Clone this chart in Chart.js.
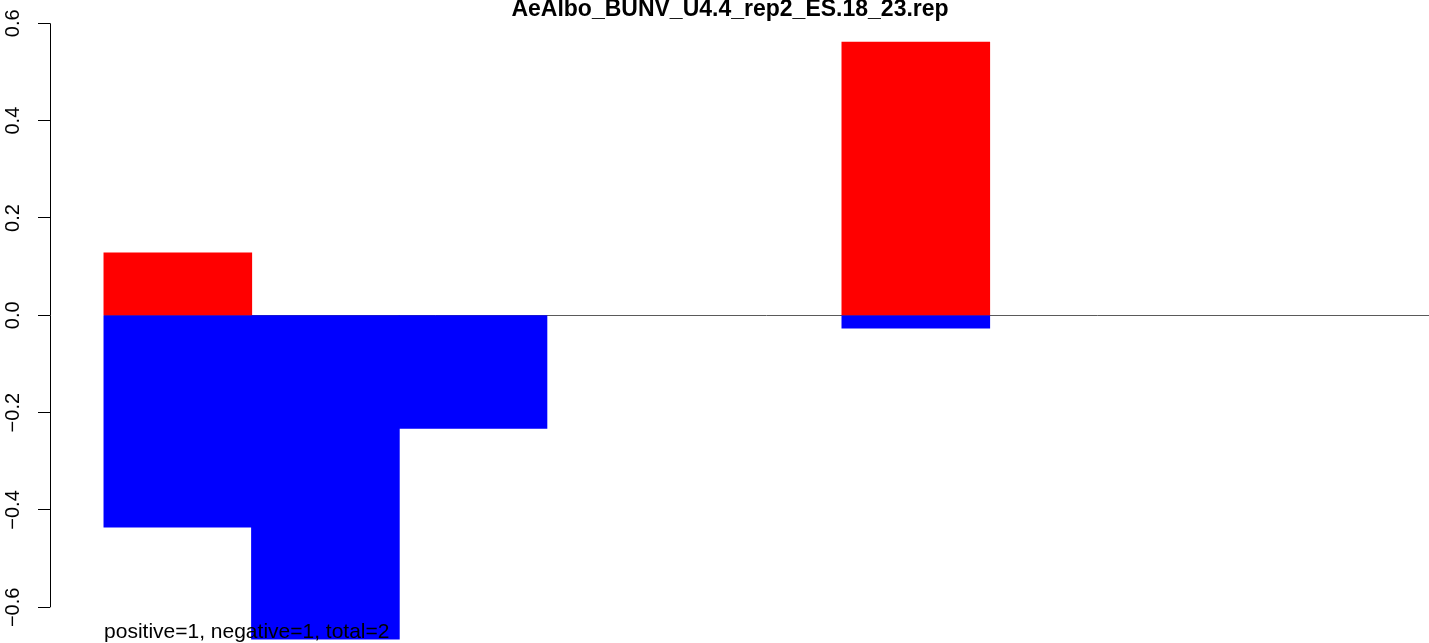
<!DOCTYPE html>
<html><head><meta charset="utf-8">
<script src="https://cdn.jsdelivr.net/npm/chart.js@4/dist/chart.umd.min.js"></script>
<style>html,body{margin:0;padding:0;background:#fff;overflow:hidden}canvas{display:block}</style>
</head><body>
<canvas id="c" width="1429" height="643"></canvas>
<script>
const chartTitle = 'AeAlbo_BUNV_U4.4_rep2_ES.18_23.rep';
const footnote = 'positive=1, negative=1, total=2';
const categories = ['1','2','3','4','5','6','7','8','9'];
const positiveValues = [0.128, 0, 0, 0, 0, 0.561, 0, 0, 0];
const negativeValues = [-0.435, -0.665, -0.232, 0, 0, -0.026, 0, 0, 0];
const tickValues = [-0.6, -0.4, -0.2, 0, 0.2, 0.4, 0.6];
const tickLabels = ['\u22120.6', '\u22120.4', '\u22120.2', '0.0', '0.2', '0.4', '0.6'];

const FONT = '"Liberation Sans", Arial, Helvetica, sans-serif';
const toPoints = vals => vals.map((v, i) => ({x: i + 0.5, y: v}));
const inflate = c => (c.raw && c.raw.y !== 0) ? 0.5 : 0;

const decor = {
  id: 'decor',
  beforeDatasetsDraw(chart) {
    const {ctx, chartArea, scales: {x, y}} = chart;
    const y0 = Math.round(y.getPixelForValue(0)) + 0.5;
    ctx.save();
    ctx.strokeStyle = '#5a5a5a';
    ctx.lineWidth = 1;
    ctx.beginPath();
    ctx.moveTo(x.getPixelForValue(0), y0);
    ctx.lineTo(chartArea.right, y0);
    ctx.stroke();
    ctx.restore();
  },
  afterDatasetsDraw(chart) {
    const {ctx, chartArea, scales: {x, y}} = chart;
    ctx.save();
    const sx = chartArea.left + 0.5;
    ctx.strokeStyle = '#000';
    ctx.lineWidth = 1;
    ctx.beginPath();
    ctx.moveTo(sx, y.getPixelForValue(tickValues[tickValues.length - 1]));
    ctx.lineTo(sx, y.getPixelForValue(tickValues[0]));
    ctx.stroke();
    ctx.fillStyle = '#000';
    ctx.font = 'bold 23px ' + FONT;
    ctx.textAlign = 'center';
    ctx.textBaseline = 'alphabetic';
    ctx.fillText(chartTitle, 730, 16);
    ctx.font = '21px ' + FONT;
    ctx.textAlign = 'left';
    ctx.fillText(footnote, x.getPixelForValue(0), 638);
    ctx.restore();
  }
};

new Chart(document.getElementById('c'), {
  type: 'bar',
  data: {
    labels: categories,
    datasets: [
      {label: 'positive', data: toPoints(positiveValues), backgroundColor: '#ff0000', borderWidth: 0, inflateAmount: inflate},
      {label: 'negative', data: toPoints(negativeValues), backgroundColor: '#0000ff', borderWidth: 0, inflateAmount: inflate}
    ]
  },
  options: {
    responsive: false,
    animation: false,
    events: [],
    layout: {padding: 0},
    datasets: {bar: {barPercentage: 1, categoryPercentage: 1}},
    plugins: {legend: {display: false}, tooltip: {enabled: false}, title: {display: false}},
    scales: {
      x: {
        type: 'linear', display: false, stacked: true, offset: false,
        min: -0.366, max: 8.977,
        afterBuildTicks: s => { s.ticks = categories.map((c, i) => ({value: i + 0.5})); }
      },
      y: {
        type: 'linear', position: 'left', stacked: true,
        min: -0.6733, max: 0.6479,
        afterBuildTicks: s => { s.ticks = tickValues.map(v => ({value: v})); },
        afterFit: s => { s.width = 50; s.paddingTop = 0; s.paddingBottom = 0; },
        border: {display: false},
        grid: {drawOnChartArea: false, drawTicks: true, tickLength: 12, color: '#000', lineWidth: 1},
        ticks: {
          autoSkip: false, minRotation: 90, maxRotation: 90, crossAlign: 'center',
          padding: 5, color: '#000', font: {family: FONT, size: 20},
          callback: (v, i) => tickLabels[i]
        }
      }
    }
  },
  plugins: [decor]
});
</script>
</body></html>
